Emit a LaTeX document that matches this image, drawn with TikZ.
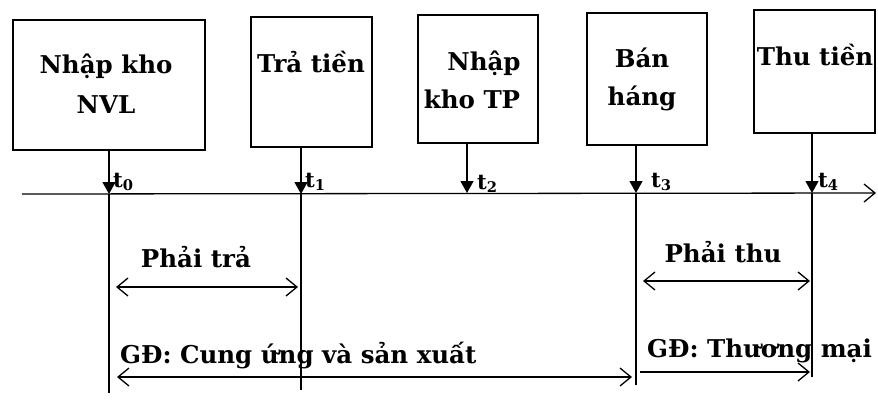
\documentclass[tikz,border=0pt]{standalone}
\usepackage{fontspec}
\setmainfont{DejaVu Serif}
\usetikzlibrary{arrows.meta}
\begin{document}
\begin{tikzpicture}[x=1pt,y=-1pt,
  evbox/.style={draw,line width=1.5pt,inner sep=0pt},
  txt/.style={font=\fontsize{24.5}{27}\selectfont\bfseries,anchor=base,inner sep=0pt},
  tlab/.style={font=\fontsize{21}{24}\selectfont\bfseries,anchor=base west,inner sep=0pt},
  vline/.style={line width=1.3pt},
  drop/.style={line width=1.3pt,-{Triangle[width=13pt,length=12pt]}},
  barb/.tip={Straight Barb[length=11pt,width=18pt]},
  span/.style={line width=1.3pt,barb-barb},
  rspan/.style={line width=1.3pt,-barb}
]
\useasboundingbox (0,0) rectangle (878,402);
% boxes
\node[evbox,minimum width=192pt,minimum height=130pt] (b1) at (109,85) {};
\node[evbox,minimum width=121pt,minimum height=130pt] (b2) at (311.5,82) {};
\node[evbox,minimum width=120pt,minimum height=128pt] (b3) at (478,79) {};
\node[evbox,minimum width=120pt,minimum height=132pt] (b4) at (647,79) {};
\node[evbox,minimum width=121pt,minimum height=123pt] (b5) at (814.5,71.5) {};
% box texts
\node[txt] (n1a) at (106,73) {Nhập kho};
\node[txt] (n1b) at (106,113) {NVL};
\node[txt] (n2) at (311,72) {Trả tiền};
\node[txt] (n3a) at (484,70) {Nhập};
\node[txt] (n3b) at (472,108) {kho TP};
\node[txt] (n4a) at (642,67) {Bán};
\node[txt] (n4b) at (642,105) {háng};
\node[txt] (n5) at (815,65) {Thu tiền};
% timeline
\coordinate (tl0) at (22,194);
\coordinate (tl1) at (876,193);
\draw[rspan] (tl0) -- (tl1);
% time points on timeline
\coordinate (p0) at (109,194);
\coordinate (p1) at (301,194);
\coordinate (p2) at (467,193);
\coordinate (p3) at (636,193);
\coordinate (p4) at (812,193);
\draw[drop] (b1.south -| p0) -- (p0);
\draw[drop] (b2.south -| p1) -- (p1);
\draw[drop] (b3.south -| p2) -- (p2);
\draw[drop] (b4.south -| p3) -- (p3);
\draw[drop] (b5.south -| p4) -- (p4);
% extensions below
\coordinate (e0) at (109,393);
\coordinate (e1) at (301,390);
\coordinate (e3) at (636,385);
\coordinate (e4) at (812,377);
\draw[vline] (p0) -- (e0);
\draw[vline] (p1) -- (e1);
\draw[vline] (p3) -- (e3);
\draw[vline] (p4) -- (e4);
% t labels
\node[tlab] (t0) at (113,187) {t\textsubscript{0}};
\node[tlab] (t1) at (305,187) {t\textsubscript{1}};
\node[tlab] (t2) at (477,189) {t\textsubscript{2}};
\node[tlab] (t3) at (651,187) {t\textsubscript{3}};
\node[tlab] (t4) at (818,187) {t\textsubscript{4}};
% spans
\coordinate (a0) at (116,287);
\coordinate (a1) at (298,287);
\draw[span] (a0) -- (a1);
\node[txt] (ptra) at (196,267) {Phải trả};
\coordinate (c0) at (643,281);
\coordinate (c1) at (810,281);
\draw[span] (c0) -- (c1);
\node[txt] (pthu) at (723,262) {Phải thu};
\coordinate (g0) at (117,377);
\coordinate (g1) at (632,377);
\draw[span] (g0) -- (g1);
\node[txt,anchor=base west] (gd1) at (120,363) {GĐ: Cung ứng và sản xuất};
\coordinate (h0) at (640,372);
\coordinate (h1) at (810,372);
\draw[rspan] (h0) -- (h1);
\node[txt,anchor=base west] (gd2) at (647,357) {GĐ: Thương mại};
\end{tikzpicture}
\end{document}
